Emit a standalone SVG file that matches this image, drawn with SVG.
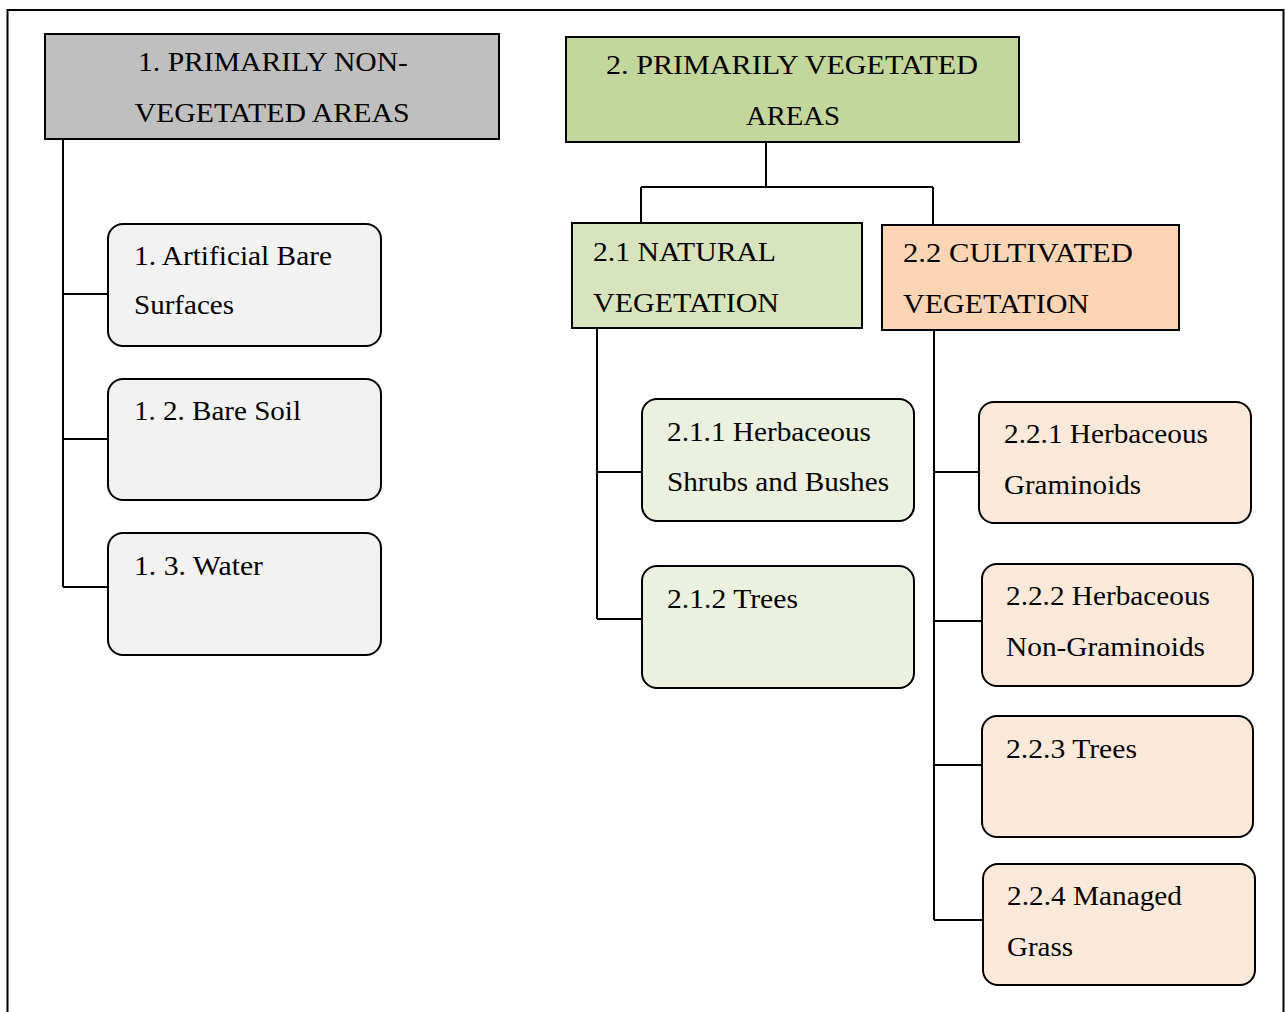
<svg xmlns="http://www.w3.org/2000/svg" width="1285" height="1012" viewBox="0 0 1285 1012">
<style>
text{font-family:"Liberation Serif","Times New Roman","DejaVu Serif",serif;font-size:28px;fill:#000}
.hdr{stroke:#000;stroke-width:2}
.leaf{stroke:#000;stroke-width:2}
.con{fill:none;stroke:#000;stroke-width:2}
.mid{text-anchor:middle}
</style>
<rect width="1285" height="1012" fill="#fff"/>
<path d="M7.5,1012 V10 H1283.5 V1012" fill="none" stroke="#000" stroke-width="2"/>
<g id="connectors" class="con">
<path d="M63,139 V587 M63,294 H108 M63,439 H108 M63,587 H108"/>
<path d="M766,142 V187 M641,187 H933 M641,187 V223 M933,187 V225"/>
<path d="M597,328 V619 M597,472 H642 M597,619 H642"/>
<path d="M934,330 V920 M934,472 H979 M934,621 H982 M934,765 H982 M934,920 H983"/>
</g>
<g id="n1"><rect class="hdr" x="45" y="34" width="454" height="105" fill="#bfbfbf"/><text class="mid" x="273" y="71" textLength="270" lengthAdjust="spacingAndGlyphs">1. PRIMARILY NON-</text><text class="mid" x="272" y="122" textLength="275" lengthAdjust="spacingAndGlyphs">VEGETATED AREAS</text></g>
<g id="n2"><rect class="hdr" x="566" y="37" width="453" height="105" fill="#c3d69b"/><text class="mid" x="792" y="74" textLength="372" lengthAdjust="spacingAndGlyphs">2. PRIMARILY VEGETATED</text><text class="mid" x="793" y="125" textLength="94" lengthAdjust="spacingAndGlyphs">AREAS</text></g>
<g id="n11"><rect class="leaf" x="108" y="224" width="273" height="122" rx="15" fill="#f2f2f2"/><text x="134" y="265" textLength="198" lengthAdjust="spacingAndGlyphs">1. Artificial Bare</text><text x="134" y="314" textLength="100" lengthAdjust="spacingAndGlyphs">Surfaces</text></g>
<g id="n12"><rect class="leaf" x="108" y="379" width="273" height="121" rx="15" fill="#f2f2f2"/><text x="134" y="420" textLength="167" lengthAdjust="spacingAndGlyphs">1. 2. Bare Soil</text></g>
<g id="n13"><rect class="leaf" x="108" y="533" width="273" height="122" rx="15" fill="#f2f2f2"/><text x="134" y="575" textLength="129" lengthAdjust="spacingAndGlyphs">1. 3. Water</text></g>
<g id="n21"><rect class="hdr" x="572" y="223" width="290" height="105" fill="#d7e4bd"/><text x="593" y="261" textLength="183" lengthAdjust="spacingAndGlyphs">2.1 NATURAL</text><text x="593" y="312" textLength="186" lengthAdjust="spacingAndGlyphs">VEGETATION</text></g>
<g id="n22"><rect class="hdr" x="882" y="225" width="297" height="105" fill="#fcd5b5"/><text x="903" y="262" textLength="230" lengthAdjust="spacingAndGlyphs">2.2 CULTIVATED</text><text x="903" y="313" textLength="186" lengthAdjust="spacingAndGlyphs">VEGETATION</text></g>
<g id="n211"><rect class="leaf" x="642" y="399" width="272" height="122" rx="15" fill="#ebf1de"/><text x="667" y="441" textLength="204" lengthAdjust="spacingAndGlyphs">2.1.1 Herbaceous</text><text x="667" y="491" textLength="222" lengthAdjust="spacingAndGlyphs">Shrubs and Bushes</text></g>
<g id="n212"><rect class="leaf" x="642" y="566" width="272" height="122" rx="15" fill="#ebf1de"/><text x="667" y="608" textLength="131" lengthAdjust="spacingAndGlyphs">2.1.2 Trees</text></g>
<g id="n221"><rect class="leaf" x="979" y="402" width="272" height="121" rx="15" fill="#fde9d9"/><text x="1004" y="443" textLength="204" lengthAdjust="spacingAndGlyphs">2.2.1 Herbaceous</text><text x="1004" y="494" textLength="137" lengthAdjust="spacingAndGlyphs">Graminoids</text></g>
<g id="n222"><rect class="leaf" x="982" y="564" width="271" height="122" rx="15" fill="#fde9d9"/><text x="1006" y="605" textLength="204" lengthAdjust="spacingAndGlyphs">2.2.2 Herbaceous</text><text x="1006" y="656" textLength="199" lengthAdjust="spacingAndGlyphs">Non-Graminoids</text></g>
<g id="n223"><rect class="leaf" x="982" y="716" width="271" height="121" rx="15" fill="#fde9d9"/><text x="1006" y="758" textLength="131" lengthAdjust="spacingAndGlyphs">2.2.3 Trees</text></g>
<g id="n224"><rect class="leaf" x="983" y="864" width="272" height="121" rx="15" fill="#fde9d9"/><text x="1007" y="905" textLength="175" lengthAdjust="spacingAndGlyphs">2.2.4 Managed</text><text x="1007" y="956" textLength="66" lengthAdjust="spacingAndGlyphs">Grass</text></g>
</svg>
